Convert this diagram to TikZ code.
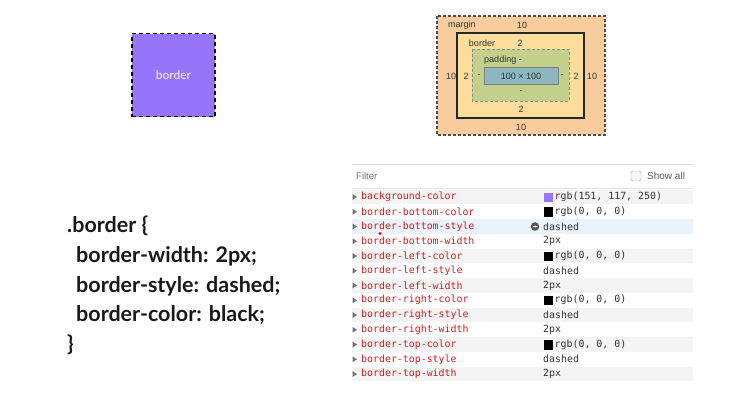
\documentclass[tikz,border=0pt]{standalone}
\usepackage{fontspec}
\setmainfont{Lato}
\newfontfamily\boxfont{Liberation Sans}
\newfontfamily\codefont{DejaVu Sans Mono}
\usepackage{xcolor}
\usetikzlibrary{arrows.meta}

\definecolor{boxpurple}{RGB}{151,117,250}
\definecolor{marginfill}{RGB}{249,204,157}
\definecolor{borderfill}{RGB}{253,221,155}
\definecolor{paddingfill}{RGB}{195,208,139}
\definecolor{contentfill}{RGB}{140,182,192}
\definecolor{propred}{RGB}{200,32,32}
\definecolor{rowgrey}{RGB}{244,244,244}
\definecolor{rowblue}{RGB}{234,242,251}
\definecolor{labelgrey}{RGB}{51,51,51}

\begin{document}
\begin{tikzpicture}[x=1pt, y=-1pt,
  every node/.style={inner sep=0pt},
  bm/.style={font=\boxfont\fontsize{9}{10}\selectfont, text=labelgrey},
  prop/.style={anchor=west, font=\codefont\fontsize{9.9}{11}\selectfont, text=propred},
  val/.style={anchor=west, font=\codefont\fontsize{9.9}{11}\selectfont, text=black!80},
  css/.style={anchor=west, font=\bfseries\fontsize{21.5}{24}\selectfont, text=black!90}]
\useasboundingbox (0,0) rectangle (748,418);

% Purple box
\node[draw, dashed, dash pattern=on 4pt off 3pt, line width=1.6pt, fill=boxpurple,
  minimum size=83pt, font=\fontsize{12}{14}\selectfont, text=white!92!boxpurple] (purplebox) at (173.5,75) {border};

% Box model
\draw[fill=marginfill, dashed, dash pattern=on 3pt off 2pt, line width=1.1pt, draw=black!70] (437,16) rectangle (605,135);
\draw[fill=borderfill, line width=1.5pt, draw=black!85] (457,33) rectangle (584,118);
\draw[fill=paddingfill, dashed, dash pattern=on 3pt off 2pt, line width=0.9pt, draw=black!45] (472,49) rectangle (569,101);
\draw[fill=contentfill, line width=0.9pt, draw=black!50] (484,67) rectangle (558,84);
\node[bm] (mlabel) at (462,25) {margin};
\node[bm] (mtop) at (522,25) {10};
\node[bm] (blabel) at (482,43) {border};
\node[bm] (btop) at (520,43) {2};
\node[bm] (plabel) at (503,60) {padding -};
\node[bm] (content) at (521,76) {100 × 100};
\node[bm] (mleft) at (451,76) {10};
\node[bm] (bleft) at (466,76) {2};
\node[bm] (pleft) at (479,76) {-};
\node[bm] (pright) at (562,76) {-};
\node[bm] (bright) at (576,76) {2};
\node[bm] (mright) at (592,76) {10};
\node[bm] (pbottom) at (521,92) {-};
\node[bm] (bbottom) at (521,109) {2};
\node[bm] (mbottom) at (521,127) {10};

% CSS rule
\node[css] (sel) at (67,226) {.border \{};
\node[css] (width) at (76,256) {border-width: 2px;};
\node[css] (style) at (76,286) {border-style: dashed;};
\node[css] (color) at (76,315) {border-color: black;};
\node[css] (close) at (67,345) {\}};

% Panel header
\draw[black!15, line width=1pt] (352,164) -- (693,164);
\draw[black!10, line width=0.6pt] (352,188) -- (693,188);
\node[anchor=west, font=\boxfont\fontsize{9.5}{11}\selectfont, text=black!55] (filter) at (356,176) {Filter};
\draw[black!35, fill=black!3, rounded corners=1.5pt] (631,171) rectangle (641,181);
\node[anchor=west, font=\boxfont\fontsize{10}{12}\selectfont, text=black!65] (showall) at (647,176) {Show all};

% Row stripes
\foreach \k in {1,5,7,9,11,13}
  \fill[rowgrey] (352,{197+(\k-1)*14.75-7.37}) rectangle (693,{197+(\k-1)*14.75+7.37});
\fill[rowblue] (352,{197+2*14.75-7.37}) rectangle (693,{197+2*14.75+7.37});
\foreach \k in {1,...,13}
  \fill[black!55] (352.5,{197+(\k-1)*14.75-3}) -- (357,{197+(\k-1)*14.75}) -- (352.5,{197+(\k-1)*14.75+3}) -- cycle;

% Properties
\node[prop] (p1) at (361,197) {background-color};
\node[prop] (p2) at (361,211.75) {border-bottom-color};
\node[prop] (p3) at (361,226.5) {border-bottom-style};
\node[prop] (p4) at (361,241.25) {border-bottom-width};
\node[prop] (p5) at (361,256) {border-left-color};
\node[prop] (p6) at (361,270.75) {border-left-style};
\node[prop] (p7) at (361,285.5) {border-left-width};
\node[prop] (p8) at (361,300.25) {border-right-color};
\node[prop] (p9) at (361,315) {border-right-style};
\node[prop] (p10) at (361,329.75) {border-right-width};
\node[prop] (p11) at (361,344.5) {border-top-color};
\node[prop] (p12) at (361,359.25) {border-top-style};
\node[prop] (p13) at (361,374) {border-top-width};
\fill[red] (380,233.5) circle (1.6);

% Values
\fill[boxpurple] (543.5,192.5) rectangle (553,202);
\node[val] (v1) at (554.5,197) {rgb(151, 117, 250)};
\fill[black] (543.5,207.25) rectangle (553,216.75);
\node[val] (v2) at (554.5,211.75) {rgb(0, 0, 0)};
\fill[black!65] (535,226.5) circle (4.3);
\draw[white, line width=1pt, -{Stealth[length=2.5pt]}] (532.5,226.5) -- (538,226.5);
\node[val] (v3) at (543,226.5) {dashed};
\node[val] (v4) at (543,241.25) {2px};
\fill[black] (543.5,251.5) rectangle (553,261);
\node[val] (v5) at (554.5,256) {rgb(0, 0, 0)};
\node[val] (v6) at (543,270.75) {dashed};
\node[val] (v7) at (543,285.5) {2px};
\fill[black] (543.5,295.75) rectangle (553,305.25);
\node[val] (v8) at (554.5,300.25) {rgb(0, 0, 0)};
\node[val] (v9) at (543,315) {dashed};
\node[val] (v10) at (543,329.75) {2px};
\fill[black] (543.5,340) rectangle (553,349.5);
\node[val] (v11) at (554.5,344.5) {rgb(0, 0, 0)};
\node[val] (v12) at (543,359.25) {dashed};
\node[val] (v13) at (543,374) {2px};

\end{tikzpicture}
\end{document}
